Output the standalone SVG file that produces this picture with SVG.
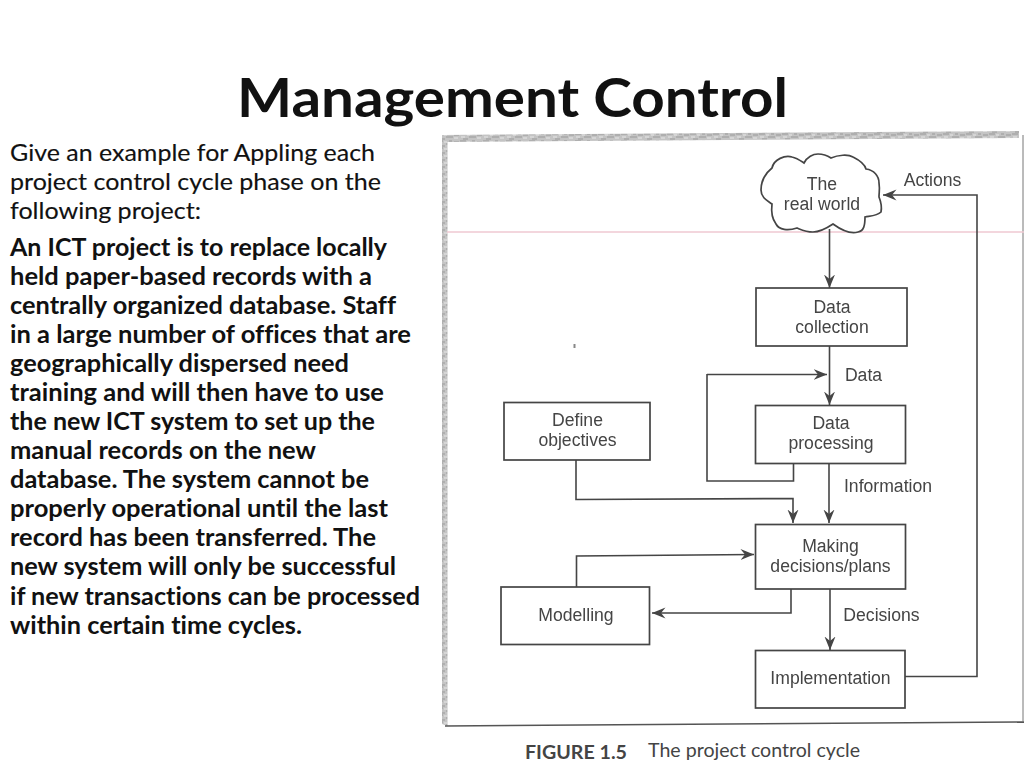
<svg xmlns="http://www.w3.org/2000/svg" width="1024" height="768" viewBox="0 0 1024 768">
<style>
text{font-variant-ligatures:none}
.t{font-family:Lato,"Liberation Sans",sans-serif;font-size:24px;fill:#111;stroke:#111;stroke-width:0.15}
.b{font-weight:700;fill:#111;stroke:none}
.f{font-family:"Liberation Sans",Arial,sans-serif;font-size:17.600px;fill:#444;text-anchor:middle}
.box{fill:#fff;stroke:#444;stroke-width:1.7}
.c{fill:none;stroke:#444;stroke-width:1.6}
.a{fill:none;stroke:#444;stroke-width:1.6;marker-end:url(#arr)}
</style>
<defs>
<marker id="arr" viewBox="0 0 14 12" refX="13.500" refY="6" markerWidth="14" markerHeight="12" markerUnits="userSpaceOnUse" orient="auto">
<path d="M0 0.500L13.500 6L0 11.500L4.500 6Z" fill="#444"/>
</marker>
<filter id="soft" x="-2%" y="-2%" width="104%" height="104%"><feGaussianBlur stdDeviation="0.4"/></filter>
<pattern id="speck" width="23" height="7" patternUnits="userSpaceOnUse">
<rect width="23" height="7" fill="#c4c4c4"/>
<path d="M0 1h6M9 4h7M3 6h5M17 2h5M12 1h3" stroke="#9a9a9a" stroke-width="1"/>
<path d="M7 2h3M1 4h4M17 5h4" stroke="#e6e6e6" stroke-width="1"/>
</pattern>
</defs>
<rect width="1024" height="768" fill="#fff"/>
<text id="title" x="237" y="117" font-family="Lato,'Liberation Sans',sans-serif" font-size="54" font-weight="700" fill="#111" textLength="551" lengthAdjust="spacingAndGlyphs">Management Control</text>
<g id="prompt">
<text class="t" x="10" y="161" textLength="365" lengthAdjust="spacingAndGlyphs">Give an example for Appling each</text>
<text class="t" x="10" y="190" textLength="371" lengthAdjust="spacingAndGlyphs">project control cycle phase on the</text>
<text class="t" x="10" y="219" textLength="191" lengthAdjust="spacingAndGlyphs">following project:</text>
</g>
<g id="scenario">
<text class="t b" x="10" y="255.500" textLength="377" lengthAdjust="spacingAndGlyphs">An ICT project is to replace locally</text>
<text class="t b" x="10" y="284.500" textLength="362" lengthAdjust="spacingAndGlyphs">held paper-based records with a</text>
<text class="t b" x="10" y="313.500" textLength="386" lengthAdjust="spacingAndGlyphs">centrally organized database. Staff</text>
<text class="t b" x="10" y="342.500" textLength="401" lengthAdjust="spacingAndGlyphs">in a large number of offices that are</text>
<text class="t b" x="10" y="372" textLength="339" lengthAdjust="spacingAndGlyphs">geographically dispersed need</text>
<text class="t b" x="10" y="401" textLength="374" lengthAdjust="spacingAndGlyphs">training and will then have to use</text>
<text class="t b" x="10" y="430" textLength="365" lengthAdjust="spacingAndGlyphs">the new ICT system to set up the</text>
<text class="t b" x="10" y="459" textLength="306" lengthAdjust="spacingAndGlyphs">manual records on the new</text>
<text class="t b" x="10" y="488" textLength="359" lengthAdjust="spacingAndGlyphs">database. The system cannot be</text>
<text class="t b" x="10" y="517" textLength="378" lengthAdjust="spacingAndGlyphs">properly operational until the last</text>
<text class="t b" x="10" y="546" textLength="366" lengthAdjust="spacingAndGlyphs">record has been transferred. The</text>
<text class="t b" x="10" y="575" textLength="386" lengthAdjust="spacingAndGlyphs">new system will only be successful</text>
<text class="t b" x="10" y="605" textLength="410" lengthAdjust="spacingAndGlyphs">if new transactions can be processed</text>
<text class="t b" x="10" y="634" textLength="292" lengthAdjust="spacingAndGlyphs">within certain time cycles.</text>
</g>
<g id="figure-frame">
<path d="M442 135L1019 131L1019 138L447.500 142L447.500 726L442 724Z" fill="url(#speck)"/>
<path d="M445 726L1024 722" fill="none" stroke="#555" stroke-width="1.6"/>
<path d="M1023 135V722" fill="none" stroke="#777" stroke-width="1"/>
<path d="M447 232H1024" fill="none" stroke="#efc9d2" stroke-width="1.6"/>
<rect x="573.500" y="344" width="2" height="4" fill="#888"/>
</g>
<g filter="url(#soft)">
<g id="connectors">
<path class="a" d="M829.500 229V288"/>
<path class="a" d="M829.500 346V405"/>
<path class="c" d="M793.500 463V481H707V374"/>
<path class="a" d="M707 374.500H827"/>
<path class="a" d="M829 463V523"/>
<path class="a" d="M576 460V499.500L793 498.500V523"/>
<path class="a" d="M576.500 587V556L754 554.500"/>
<path class="a" d="M791 589V613H652"/>
<path class="a" d="M830 589V650"/>
<path class="a" d="M905 676.500H977V195H883"/>
</g>
<g id="real-world">
<path class="box" d="M761 190C761 178 767 172 772 168C774 159 785 155 792 157C797 158 801 161 804 163C807 157 813 154 818 154C824 154 828 156 831 158C838 155 848 154 853 157C859 160 865 165 866 169C874 170 879 176 879 183C880 190 879 192 879 197C881 202 882 207 881 212C877 216 870 216 865 217C865 225 864 231 858 232C851 234 844 232 833 224C827 228 820 232 813 232C806 232 802 230 797 228C788 231 779 230 776 224C773 220 771 212 772 204C768 201 761 198 761 190Z"/>
<text class="f" x="822" y="190">The</text>
<text class="f" x="822" y="210">real world</text>
</g>
<g id="data-collection">
<rect class="box" x="756" y="288" width="151" height="58"/>
<text class="f" x="832" y="313">Data</text>
<text class="f" x="832" y="333">collection</text>
</g>
<g id="data-processing">
<rect class="box" x="755.500" y="405.500" width="150" height="58"/>
<text class="f" x="831" y="429">Data</text>
<text class="f" x="831" y="449">processing</text>
</g>
<g id="define-objectives">
<rect class="box" x="504" y="402.500" width="146" height="57.500"/>
<text class="f" x="577.500" y="426">Define</text>
<text class="f" x="577.500" y="446">objectives</text>
</g>
<g id="making-decisions">
<rect class="box" x="755.500" y="524.500" width="150" height="64.500"/>
<text class="f" x="830.500" y="552">Making</text>
<text class="f" x="830.500" y="571.500">decisions/plans</text>
</g>
<g id="modelling">
<rect class="box" x="501" y="587" width="148.500" height="57.500"/>
<text class="f" x="576" y="620.500">Modelling</text>
</g>
<g id="implementation">
<rect class="box" x="755.500" y="650.500" width="149.500" height="57.500"/>
<text class="f" x="830.500" y="683.500">Implementation</text>
</g>
<g id="labels">
<text class="f" x="932.500" y="186">Actions</text>
<text class="f" x="863.500" y="381">Data</text>
<text class="f" x="888" y="491.500">Information</text>
<text class="f" x="881.500" y="620.500">Decisions</text>
</g>
</g>
<g id="caption">
<text x="525" y="759" font-family="Lato,'Liberation Sans',sans-serif" font-size="19" font-weight="700" fill="#444" textLength="102" lengthAdjust="spacingAndGlyphs">FIGURE 1.5</text>
<text x="648" y="757" font-family="Lato,'Liberation Sans',sans-serif" font-size="19" fill="#444" textLength="212" lengthAdjust="spacingAndGlyphs">The project control cycle</text>
</g>
</svg>
